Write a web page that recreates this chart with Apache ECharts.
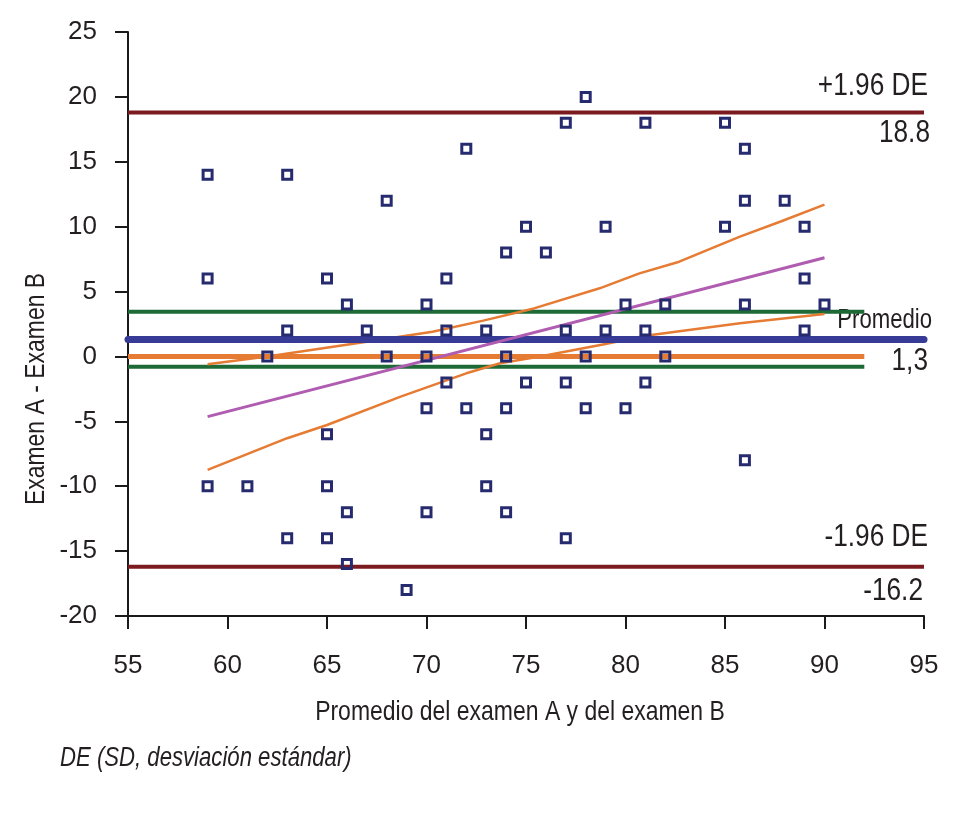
<!DOCTYPE html>
<html>
<head>
<meta charset="utf-8">
<script src="https://cdn.jsdelivr.net/npm/echarts@6/dist/echarts.min.js"></script>
<style>
html,body{margin:0;padding:0;background:#fff;}
#chart{width:979px;height:816px;}
</style>
</head>
<body>
<div id="chart"></div>
<script>
// ---- data ----
const avgAB  = [59,59,59,61,62,63,63,63,65,65,65,65,66,66,66,67,68,68,69,70,70,70,70,71,71,71,72,72,73,73,73,74,74,74,74,75,75,76,77,77,77,77,78,78,78,79,79,80,80,81,81,81,82,82,85,85,86,86,86,86,88,89,89,89,90];
const diffAB = [14,6,-10,-10,0,14,2,-14,6,-6,-10,-14,4,-12,-16,2,12,0,-18,4,0,-4,-12,6,2,-2,16,-4,2,-6,-10,8,0,-4,-12,10,-2,8,18,2,-2,-14,20,0,-4,10,2,4,-4,18,2,-2,4,0,18,10,16,12,4,-8,12,10,6,2,4];

const meanDiff = 1.3;
const upperLoA = 18.8;
const lowerLoA = -16.2;
const ciMeanUpper = 3.45;
const ciMeanLower = -0.8;
const zeroDiff = 0;
const fullRange = [55, 95];
const shortRange = [55, 92];

const regX = [59, 90];
const regY = [-4.64, 7.6];
const bandUpX = [59, 62, 67, 70.3, 72.85, 75.4, 78.7, 80.7, 82.7, 85.75, 87.8, 90];
const bandUpY = [-0.6, 0, 1.14, 1.9, 2.76, 3.7, 5.25, 6.4, 7.3, 9.23, 10.4, 11.7];
const bandLoX = [59, 63, 65, 68.7, 72, 73.7, 75.7, 79, 81, 85.75, 90];
const bandLoY = [-8.74, -6.3, -5.28, -3.1, -1.3, -0.52, 0, 0.96, 1.6, 2.56, 3.27];

const xTicks = [55, 60, 65, 70, 75, 80, 85, 90, 95];
const yTicks = [-20, -15, -10, -5, 0, 5, 10, 15, 20, 25];

const labels = {
  upperName: '+1.96 DE', upperVal: '18.8',
  meanName: 'Promedio', meanVal: '1,3',
  lowerName: '-1.96 DE', lowerVal: '-16.2',
  xTitle: 'Promedio del examen A y del examen B',
  yTitle: 'Examen A - Examen B',
  note: 'DE (SD, desviación estándar)'
};

// ---- helpers ----
const zip = (xs, ys) => xs.map((x, i) => [x, ys[i]]);
const hline = (range, y) => range.map(x => [x, y]);

const FONT = '"Liberation Sans", Arial, sans-serif';
const TXT = '#231f20';
const NARROW = 0.82;

const chart = echarts.init(document.getElementById('chart'), null, {renderer: 'canvas'});

function lineSeries(name, data, color, width, z, cap) {
  return {
    name, type: 'line', data, symbol: 'none', silent: true, animation: false, z,
    lineStyle: {color, width, cap: cap || 'butt'}
  };
}

chart.setOption({
  backgroundColor: '#ffffff',
  animation: false,
  grid: {left: 128, right: 55, top: 32, bottom: 200, containLabel: false},
  xAxis: {
    type: 'value', min: xTicks[0], max: xTicks[xTicks.length - 1], interval: 5,
    splitLine: {show: false},
    axisLine: {onZero: false, lineStyle: {color: '#1a1a1a', width: 2}},
    axisTick: {show: true, length: 13, inside: false, lineStyle: {color: '#1a1a1a', width: 2}},
    axisLabel: {margin: 37, color: TXT, fontFamily: FONT, fontSize: 26}
  },
  yAxis: {
    type: 'value', min: yTicks[0], max: yTicks[yTicks.length - 1], interval: 5,
    splitLine: {show: false},
    axisLine: {onZero: false, lineStyle: {color: '#1a1a1a', width: 2}},
    axisTick: {show: true, length: 13, inside: false, lineStyle: {color: '#1a1a1a', width: 2}},
    axisLabel: {margin: 31, color: TXT, fontFamily: FONT, fontSize: 26}
  },
  series: [
    lineSeries('+1.96 DE', hline(fullRange, upperLoA), '#7b1b1f', 4, 2),
    lineSeries('-1.96 DE', hline(fullRange, lowerLoA), '#7b1b1f', 4, 2),
    lineSeries('IC sup', hline(shortRange, ciMeanUpper), '#1d6a36', 4, 2),
    lineSeries('IC inf', hline(shortRange, ciMeanLower), '#1d6a36', 4, 2),
    lineSeries('Cero', hline(shortRange, zeroDiff), '#e67b33', 5, 3),
    lineSeries('Banda sup', zip(bandUpX, bandUpY), '#e67b33', 2.5, 4),
    lineSeries('Banda inf', zip(bandLoX, bandLoY), '#e67b33', 2.5, 4),
    lineSeries('Promedio', hline(fullRange, meanDiff), '#373b96', 7, 5, 'round'),
    lineSeries('Regresión', zip(regX, regY), '#b05cb0', 3, 6),
    {
      name: 'Diferencias', type: 'scatter', z: 10, animation: false,
      data: zip(avgAB, diffAB),
      symbol: 'rect', symbolSize: 9,
      itemStyle: {color: 'rgba(0,0,0,0)', borderColor: '#262a6e', borderWidth: 3, opacity: 1}
    }
  ]
});

// annotation texts anchored to the data lines
function yPix(v) { return chart.convertToPixel({gridIndex: 0}, [95, v])[1]; }
const rightX = 928;
function t(text, x, y, size) {
  return {
    type: 'text', x, y, scaleX: NARROW, silent: true,
    style: {text, fill: TXT, font: size + 'px ' + FONT, textAlign: 'right', textVerticalAlign: 'bottom'}
  };
}
const yUp = yPix(upperLoA), yMean = yPix(meanDiff), yLow = yPix(lowerLoA);
chart.setOption({
  graphic: [
    t(labels.upperName, rightX, yUp - 10, 32),
    t(labels.upperVal, rightX + 2, yUp + 37, 32),
    t(labels.meanName, rightX + 4, yMean - 6, 27),
    t(labels.meanVal, rightX, yMean + 38, 32),
    t(labels.lowerName, rightX, yLow - 14, 32),
    t(labels.lowerVal, rightX - 5, yLow + 40, 32),
    {
      type: 'text', x: 520, y: 712, scaleX: NARROW, silent: true,
      style: {text: labels.xTitle, fill: TXT, font: '28px ' + FONT, textAlign: 'center', textVerticalAlign: 'middle'}
    },
    {
      type: 'text', x: 36, y: 389, rotation: Math.PI / 2, scaleX: NARROW, silent: true,
      style: {text: labels.yTitle, fill: TXT, font: '28px ' + FONT, textAlign: 'center', textVerticalAlign: 'middle'}
    },
    {
      type: 'text', x: 60, y: 758, scaleX: NARROW, silent: true,
      style: {text: labels.note, fill: TXT, font: 'italic 27px ' + FONT, textAlign: 'left', textVerticalAlign: 'middle'}
    }
  ]
});
</script>
</body>
</html>
